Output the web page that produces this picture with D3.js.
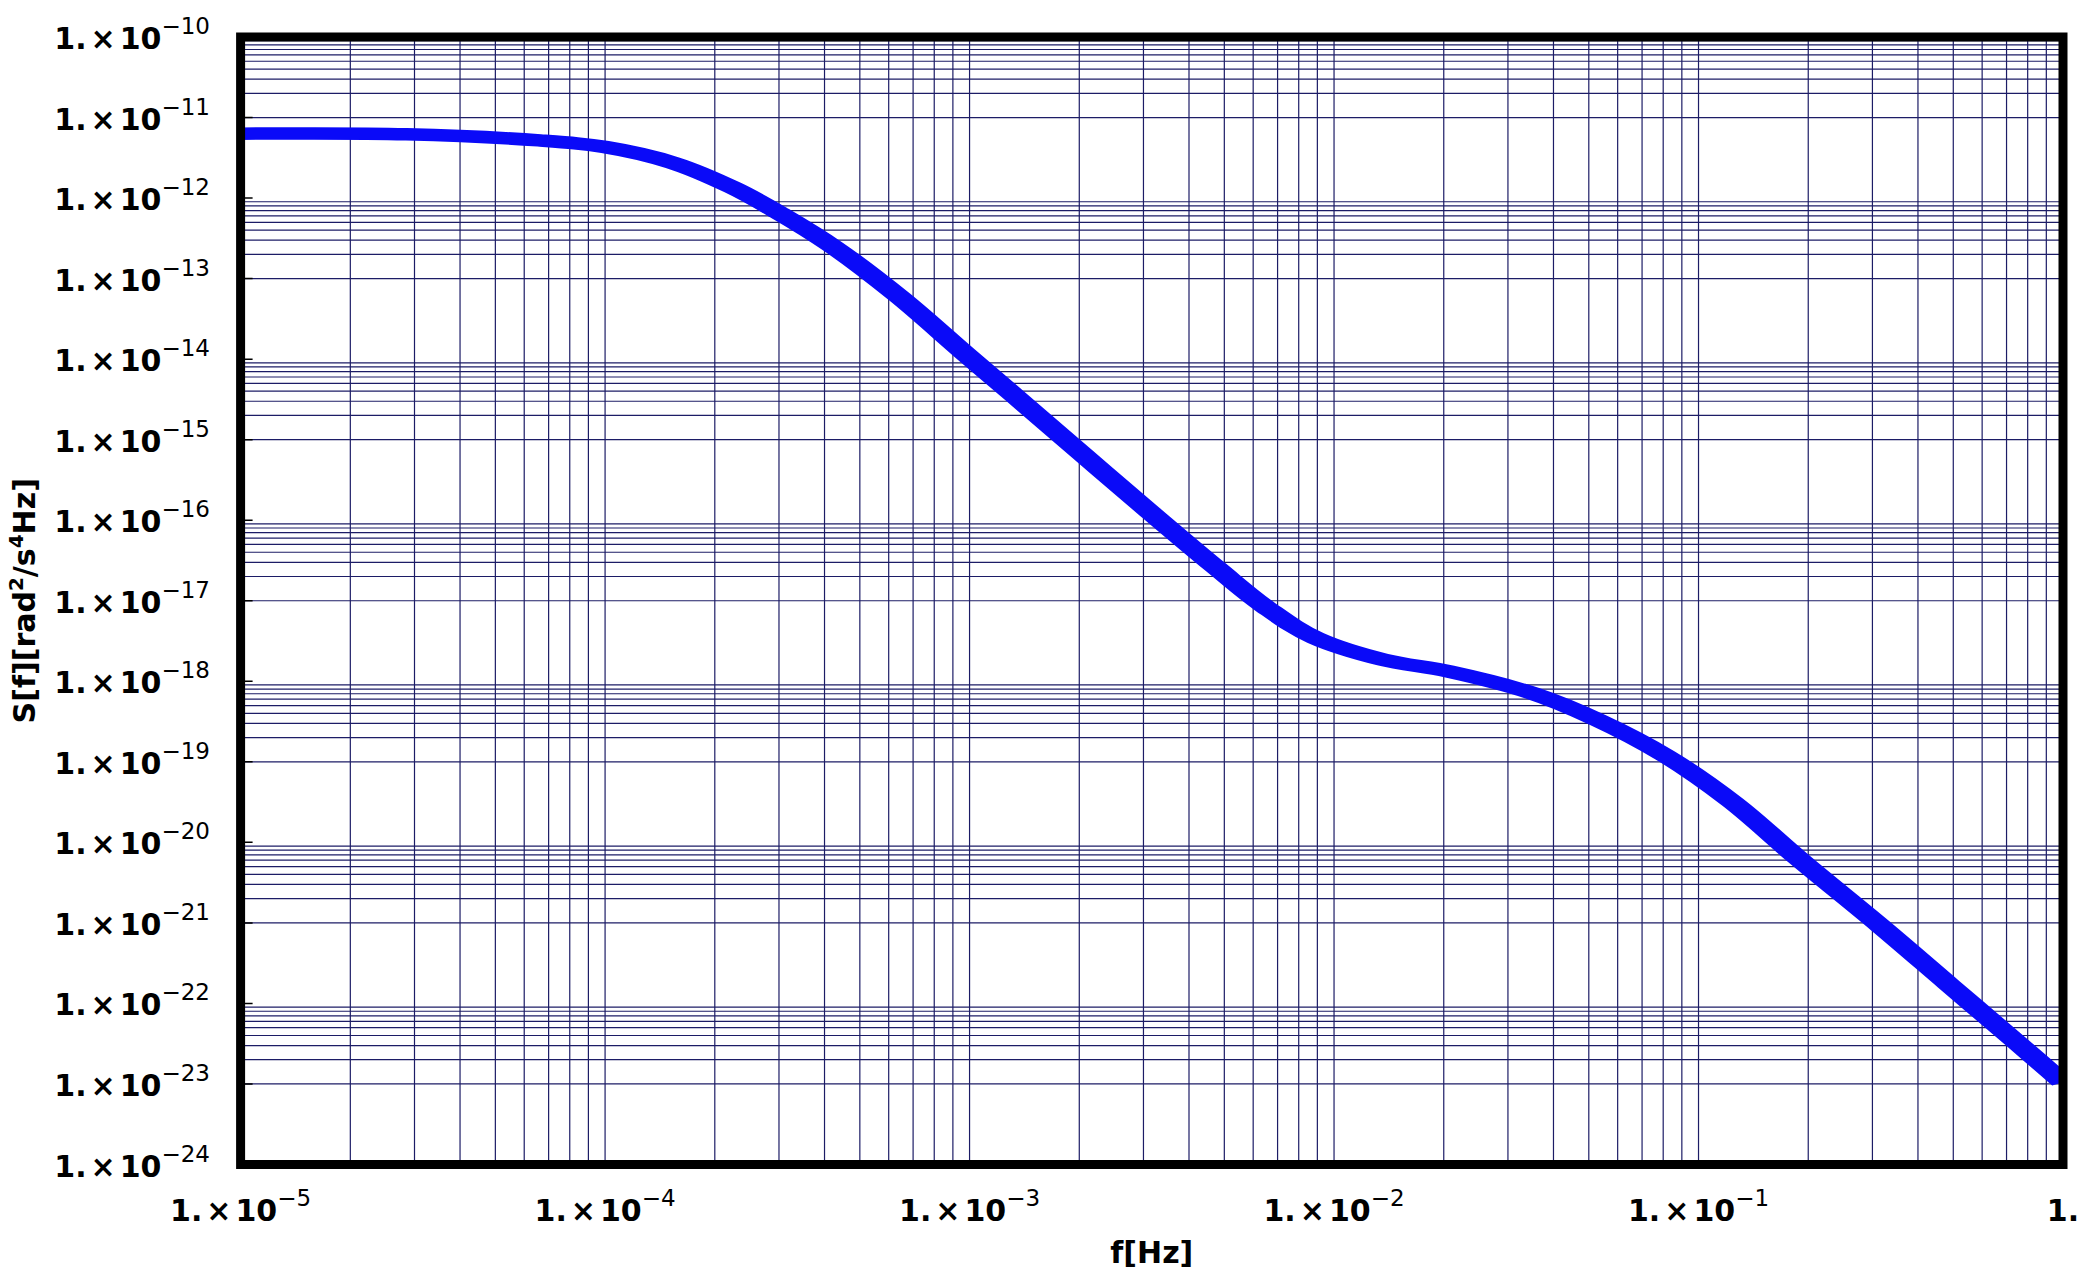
<!DOCTYPE html>
<html>
<head>
<meta charset="utf-8">
<script src="https://cdn.jsdelivr.net/npm/d3@7"></script>
<style>
  body { margin: 0; background: #ffffff; }
  svg { display: block; }
</style>
</head>
<body>
<svg id="chart" width="2084" height="1287"></svg>
<script>
// ---- data ----
const freqHz = [1e-5, 2.85e-5, 6.6e-5, 1.0e-4, 1.53e-4, 2.24e-4, 3.01e-4, 4.22e-4, 6.43e-4, 9.77e-4,
                1.34e-3, 2.04e-3, 3.11e-3, 4.74e-3, 6.5e-3, 8.9e-3, 1.36e-2, 2.07e-2, 3.5e-2, 5.3e-2,
                8.1e-2, 0.124, 0.188, 0.318, 0.485, 0.74, 1.0];
const psd = [6.3e-12, 6.2e-12, 5.2e-12, 4.3e-12, 2.75e-12, 1.35e-12, 6.5e-13, 2.5e-13, 5.9e-14, 1.15e-14,
             3.4e-15, 6.6e-16, 1.29e-16, 2.6e-17, 8.3e-18, 3.45e-18, 1.86e-18, 1.32e-18, 7.1e-19, 3.3e-19,
             1.2e-19, 3.16e-20, 6.3e-21, 8.9e-22, 1.74e-22, 3.4e-23, 1.05e-23];

const xTickExponents = [-5, -4, -3, -2, -1, 0];
const yTickExponents = [-10, -11, -12, -13, -14, -15, -16, -17, -18, -19, -20, -21, -22, -23, -24];
const xGridDecades = [-5, -4, -3, -2, -1];
const yGridDecades = [-11, -13, -15, -17, -19, -21, -23];
const gridMultipliers = [1, 2, 3, 4, 5, 6, 7, 8, 9];
const xTitle = "f[Hz]";

// ---- layout ----
const X0 = 240.6, X1 = 2063, Y0 = 37, Y1 = 1164.5;
const svg = d3.select("#chart");

const x = d3.scaleLog().domain([1e-5, 1]).range([X0, X1]);
const y = d3.scaleLog().domain([1e-24, 1e-10]).range([Y1, Y0]);
// curve drawn in a horizontally compressed frame, then stretched (reproduces the reference stroke look)
const STRETCH = 2;
const xs = d3.scaleLog().domain([1e-5, 1]).range([X0 / STRETCH, X1 / STRETCH]);

svg.append("rect").attr("width", 2084).attr("height", 1287).attr("fill", "#ffffff");

svg.append("defs").append("clipPath").attr("id", "plotclip")
  .append("rect").attr("x", X0).attr("y", Y0).attr("width", X1 - X0).attr("height", Y1 - Y0);

const plot = svg.append("g").attr("clip-path", "url(#plotclip)");

// grid
const gridColor = "#1c1c66";
const vVals = [];
xGridDecades.forEach(e => gridMultipliers.forEach(m => vVals.push(m * Math.pow(10, e))));
plot.append("g").selectAll("line").data(vVals).join("line")
  .attr("x1", d => x(d)).attr("x2", d => x(d))
  .attr("y1", Y0).attr("y2", Y1)
  .attr("stroke", gridColor).attr("stroke-width", 1.2);

const hVals = [];
yGridDecades.forEach(e => gridMultipliers.forEach(m => hVals.push(m * Math.pow(10, e))));
plot.append("g").selectAll("line").data(hVals).join("line")
  .attr("x1", X0).attr("x2", X1)
  .attr("y1", d => y(d)).attr("y2", d => y(d))
  .attr("stroke", gridColor).attr("stroke-width", 1.2);

// left inward ticks at every decade
plot.append("g").selectAll("line").data(yTickExponents).join("line")
  .attr("x1", X0).attr("x2", X0 + 12)
  .attr("y1", d => y(Math.pow(10, d))).attr("y2", d => y(Math.pow(10, d)))
  .attr("stroke", "#000").attr("stroke-width", 1.5);

// curve
const pts = freqHz.map((f, i) => [f, psd[i]]);
const line = d3.line()
  .x(d => xs(d[0]))
  .y(d => y(d[1]))
  .curve(d3.curveCatmullRom.alpha(0.5));
plot.append("g").attr("transform", `scale(${STRETCH},1)`)
  .append("path")
  .datum(pts)
  .attr("d", line)
  .attr("fill", "none")
  .attr("stroke", "#0a0af8")
  .attr("stroke-width", 12.5)
  .attr("stroke-linejoin", "round");

// frame
svg.append("rect")
  .attr("x", X0).attr("y", Y0).attr("width", X1 - X0).attr("height", Y1 - Y0)
  .attr("fill", "none").attr("stroke", "#000").attr("stroke-width", 9);

// labels
const mainFont = "'DejaVu Sans', Verdana, sans-serif";

function addPowerLabel(sel, exp) {
  if (exp === 0) {
    sel.append("tspan").attr("font-weight", "bold").attr("font-size", 30).text("1.");
    return;
  }
  sel.append("tspan").attr("font-weight", "bold").attr("font-size", 30).text("1.");
  sel.append("tspan").attr("font-weight", "bold").attr("font-size", 30).attr("dx", 4).text("\u00D7");
  sel.append("tspan").attr("font-weight", "bold").attr("font-size", 30).attr("dx", 4).text("10");
  sel.append("tspan").attr("font-weight", "normal").attr("font-size", 23).attr("dy", -15)
    .text("\u2212" + Math.abs(exp));
}

// y tick labels
svg.append("g").selectAll("text").data(yTickExponents).join("text")
  .attr("x", 210)
  .attr("y", d => y(Math.pow(10, d)) + 12)
  .attr("text-anchor", "end")
  .attr("font-family", mainFont)
  .attr("fill", "#000")
  .each(function (d) { addPowerLabel(d3.select(this), d); });

// x tick labels
svg.append("g").selectAll("text").data(xTickExponents).join("text")
  .attr("x", d => x(Math.pow(10, d)))
  .attr("y", 1221)
  .attr("text-anchor", "middle")
  .attr("font-family", mainFont)
  .attr("fill", "#000")
  .each(function (d) { addPowerLabel(d3.select(this), d); });

// x title
svg.append("text")
  .attr("x", (X0 + X1) / 2).attr("y", 1263)
  .attr("text-anchor", "middle")
  .attr("font-family", mainFont).attr("font-weight", "bold").attr("font-size", 30)
  .text(xTitle);

// y title
const yt = svg.append("text")
  .attr("transform", `translate(35,${(Y0 + Y1) / 2}) rotate(-90)`)
  .attr("text-anchor", "middle")
  .attr("font-family", mainFont).attr("font-weight", "bold").attr("font-size", 30);
yt.append("tspan").text("S[f][rad");
yt.append("tspan").attr("font-size", 20).attr("dy", -12).text("2");
yt.append("tspan").attr("dy", 12).text("/s");
yt.append("tspan").attr("font-size", 20).attr("dy", -12).text("4");
yt.append("tspan").attr("dy", 12).text("Hz]");
</script>
</body>
</html>
